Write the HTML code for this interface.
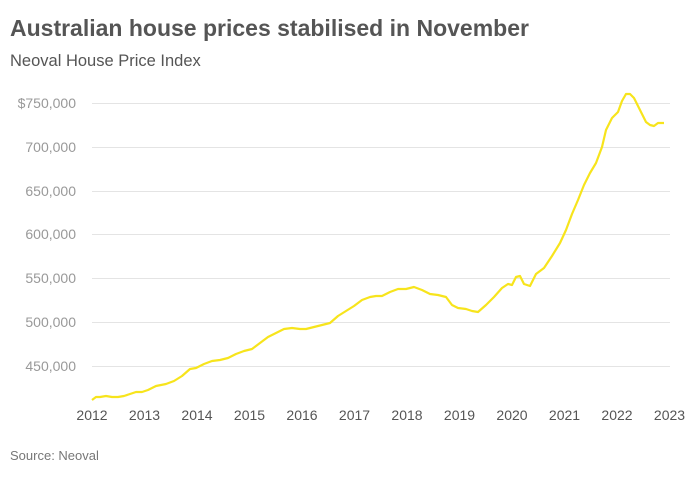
<!DOCTYPE html>
<html><head><meta charset="utf-8"><style>
body{margin:0;background:#fff;width:700px;height:474px;overflow:hidden;font-family:"Liberation Sans",sans-serif}
</style></head><body>
<svg width="700" height="474" xmlns="http://www.w3.org/2000/svg" font-family="Liberation Sans, sans-serif">
<text x="10" y="36" font-size="23" font-weight="bold" fill="#555">Australian house prices stabilised in November</text>
<text x="10" y="66" font-size="16.5" fill="#555">Neoval House Price Index</text>
<g stroke="#e4e4e4" stroke-width="1">
<line x1="92" x2="670" y1="103.5" y2="103.5"/><line x1="92" x2="670" y1="147.5" y2="147.5"/>
<line x1="92" x2="670" y1="191.5" y2="191.5"/><line x1="92" x2="670" y1="234.5" y2="234.5"/>
<line x1="92" x2="670" y1="278.5" y2="278.5"/><line x1="92" x2="670" y1="322.5" y2="322.5"/>
<line x1="92" x2="670" y1="366.5" y2="366.5"/>
</g>
<g font-size="14" fill="#999" text-anchor="end">
<text x="76" y="108">$750,000</text><text x="76" y="152">700,000</text><text x="76" y="196">650,000</text>
<text x="76" y="239">600,000</text><text x="76" y="283">550,000</text><text x="76" y="327">500,000</text>
<text x="76" y="371">450,000</text>
</g>
<g font-size="14" fill="#555" text-anchor="middle">
<text x="92" y="420">2012</text><text x="144.5" y="420">2013</text><text x="197" y="420">2014</text>
<text x="249.5" y="420">2015</text><text x="302" y="420">2016</text><text x="354.5" y="420">2017</text>
<text x="407" y="420">2018</text><text x="459.5" y="420">2019</text><text x="512" y="420">2020</text>
<text x="564.5" y="420">2021</text><text x="617" y="420">2022</text><text x="669.5" y="420">2023</text>
</g>
<polyline fill="none" stroke="#f7e41c" stroke-width="2.2" stroke-linejoin="round" points="92,400 96,397 100,397 106,396 112,397 118,397 124,396 130,394 136,392 142,392 148,390 156,386 166,384 174,381 182,376 190,369 196,368 204,364 212,361 220,360 228,358 236,354 244,351 252,349 260,343 268,337 276,333 284,329 292,328 300,329 306,329 314,327 322,325 330,323 338,316 346,311 354,306 362,300 370,297 376,296 382,296 390,292 398,289 406,289 414,287 422,290 430,294 438,295 446,297 452,305 458,308 466,309 472,311 478,312 486,305 494,297 502,288 508,284 512,285 516,277 520,276 524,284 530,286 536,274 544,268 552,256 560,243 566,230 572,214 578,200 584,185 590,173 596,163 602,147 606,130 612,118 618,112 622,101 626,94 630,94 634,98 640,110 646,122 650,125 654,126 658,123 664,123"/>
<text x="10" y="460" font-size="13" fill="#777">Source: Neoval</text>
</svg>
</body></html>
